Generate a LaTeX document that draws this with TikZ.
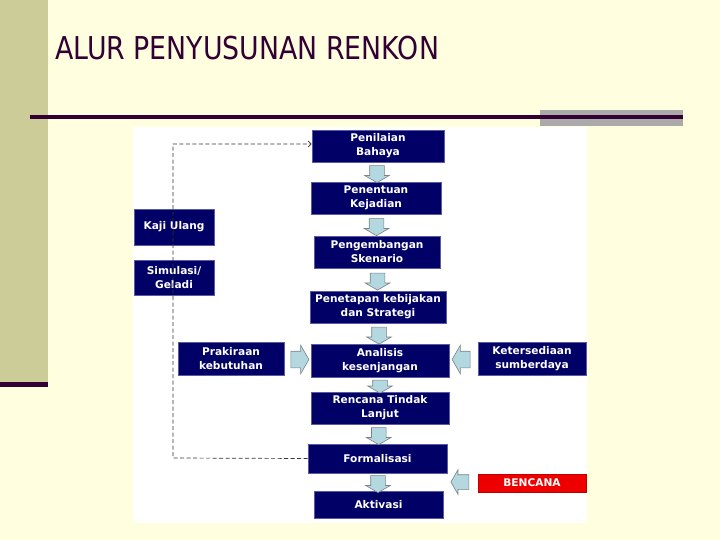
\documentclass[tikz,border=0pt]{standalone}
\usepackage{fontspec}
\setmainfont{DejaVu Sans}
\usetikzlibrary{shapes.arrows,calc,arrows.meta}
\definecolor{cream}{RGB}{255,255,224}
\definecolor{khaki}{RGB}{204,204,153}
\definecolor{plum}{RGB}{51,0,51}
\definecolor{greybar}{RGB}{170,170,170}
\definecolor{navy}{RGB}{0,0,102}
\definecolor{navyedge}{RGB}{90,90,160}
\definecolor{arrowfill}{RGB}{180,216,224}
\definecolor{arrowedge}{RGB}{120,130,135}
\definecolor{redbox}{RGB}{238,0,0}
\tikzset{
  box/.style={fill=navy,draw=navyedge,line width=0.6pt,text=white,
    font=\bfseries\fontsize{10.6}{14}\selectfont,align=center,inner sep=0pt},
  blk/.style={single arrow,draw=arrowedge,fill=arrowfill,line width=0.6pt,
    inner xsep=0pt,inner ysep=7pt,single arrow head extend=5pt,
    single arrow tip angle=120,minimum height=17pt},
  dashline/.style={draw=black!80,line width=0.7pt,dash pattern=on 4pt off 2.5pt}
}
\begin{document}
\begin{tikzpicture}[x=1pt,y=-1pt]
\useasboundingbox (0,0) rectangle (720,540);
\fill[cream] (0,0) rectangle (720,540);
\fill[khaki] (0,0) rectangle (48,382);
\fill[plum] (0,382) rectangle (48,387);
\node[anchor=west,text=plum,font=\fontsize{31.5}{34}\selectfont,xscale=0.85,inner sep=0pt] (title) at (55,48) {ALUR PENYUSUNAN RENKON};
\fill[greybar] (540,110) rectangle (683,126);
\fill[plum] (30,115.5) rectangle (683,119);
\fill[white] (133,127) rectangle (587,523);
\coordinate (dl) at (173,458);
\coordinate (tl) at (173,144);
% main boxes
\node[box,minimum width=132pt,minimum height=32pt] (b1) at (378,146) {Penilaian\\Bahaya};
\node[box,minimum width=130pt,minimum height=32pt] (b2) at (376,198) {Penentuan\\Kejadian};
\node[box,minimum width=126pt,minimum height=32pt] (b3) at (377,252) {Pengembangan\\Skenario};
\node[box,minimum width=136pt,minimum height=32pt] (b4) at (378,307) {Penetapan kebijakan\\dan Strategi};
\node[box,minimum width=138pt,minimum height=33pt] (b5) at (380,360.5) {Analisis\\kesenjangan};
\node[box,minimum width=138pt,minimum height=32pt] (b6) at (380,408) {Rencana Tindak\\Lanjut};
\node[box,minimum width=139pt,minimum height=29pt] (b7) at (377.5,458.5) {Formalisasi};
\node[box,minimum width=129pt,minimum height=27pt] (b8) at (378.5,504.5) {Aktivasi};
\node[box,minimum width=80pt,minimum height=36pt] (kaji) at (174,227) {Kaji Ulang};
\node[box,minimum width=80pt,minimum height=35pt] (sim) at (174,277.5) {Simulasi/\\Geladi};
\node[box,minimum width=106pt,minimum height=33pt] (prak) at (231,358.5) {Prakiraan\\kebutuhan};
\node[box,minimum width=108pt,minimum height=33pt] (ket) at (532,358.5) {Ketersediaan\\sumberdaya};
\node[box,fill=redbox,draw=redbox!80!black,minimum width=108pt,minimum height=18pt] (ben) at (532,483) {BENCANA};
% dashed loop
\draw[dashline,-{Straight Barb[length=3pt,width=6pt]}] (b7.west) -- (dl) -- (tl) -- (b1.west |- tl);
% block arrows down
\node[blk,rotate=-90] (a12) at ($(b1.south)!0.5!(b2.north)$) {};
\node[blk,rotate=-90] (a23) at ($(b2.south)!0.5!(b3.north)$) {};
\node[blk,rotate=-90] (a34) at ($(b3.south)!0.5!(b4.north)$) {};
\node[blk,rotate=-90] (a45) at ($(b4.south)!0.5!(b5.north)$) {};
\node[blk,rotate=-90,minimum height=13pt] (a56) at ($(b5.south)!0.5!(b6.north)$) {};
\node[blk,rotate=-90] (a67) at ($(b6.south)!0.5!(b7.north)$) {};
\node[blk,rotate=-90] (a78) at ($(b7.south)!0.5!(b8.north)$) {};
% side arrows
\node[blk,minimum height=18pt,inner ysep=8pt,single arrow head extend=6pt] (ap) at ($(prak.east)!0.5!(b5.west)$) {};
\node[blk,rotate=180,minimum height=18pt,inner ysep=8pt,single arrow head extend=6pt] (ak) at ($(ket.west)!0.5!(b5.east)$) {};
\node[blk,rotate=180,minimum height=18pt,inner ysep=7pt,single arrow head extend=5pt] (ab) at (462,482) {};
\end{tikzpicture}
\end{document}
